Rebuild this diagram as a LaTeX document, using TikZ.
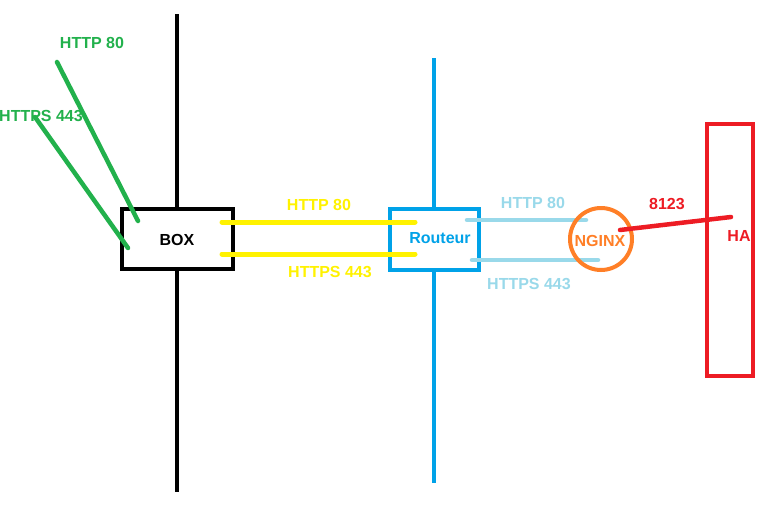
\documentclass[tikz,border=0pt]{standalone}
\usepackage{fontspec}
\setmainfont{Liberation Sans}
\definecolor{pgreen}{HTML}{22B14C}
\definecolor{pyellow}{HTML}{FFF200}
\definecolor{pblue}{HTML}{00A2E8}
\definecolor{plblue}{HTML}{99D9EA}
\definecolor{porange}{HTML}{FF7F27}
\definecolor{pred}{HTML}{ED1C24}
\begin{document}
\begin{tikzpicture}[x=1pt,y=-1pt,
  lbl/.style={font=\fontsize{16}{18}\selectfont\bfseries, inner sep=0pt},
  wire/.style={line width=4.5pt, line cap=round},
  frame/.style={line width=4pt, inner sep=0pt}]
\useasboundingbox[fill=white] (0,0) rectangle (772,507);
% black network
\coordinate (bt) at (177,14); \coordinate (bb) at (177,492);
\draw[wire, line cap=butt] (bt) -- (bb);
\node[frame, draw=black, fill=white, minimum width=111pt, minimum height=60pt] (box) at (177.5,239) {};
\node[lbl, text=black] (boxt) at (177,240) {BOX};
% green
\coordinate (g1a) at (57,62); \coordinate (g1b) at (138,221);
\coordinate (g2a) at (35,117); \coordinate (g2b) at (128,248);
\node[lbl, text=pgreen] (gl1) at (92,43) {HTTP 80};
\node[lbl, text=pgreen] (gl2) at (41,116) {HTTPS 443};
\draw[wire, pgreen] (g1a) -- (g1b);
\draw[wire, pgreen] (g2a) -- (g2b);
% blue network
\coordinate (ut) at (434,58); \coordinate (ub) at (434,483);
\draw[wire, pblue, line cap=butt] (ut) -- (ub);
\node[frame, draw=pblue, fill=white, minimum width=89pt, minimum height=61pt] (rt) at (434.5,239.5) {};
\node[lbl, text=pblue] (rtt) at (440,238) {Routeur};
% yellow
\coordinate (y1a) at (222,222); \coordinate (y1b) at (415,222);
\coordinate (y2a) at (222,254); \coordinate (y2b) at (415,254);
\draw[wire, pyellow, line width=5pt] (y1a) -- (y1b);
\draw[wire, pyellow, line width=5pt] (y2a) -- (y2b);
\node[lbl, text=pyellow] (yl1) at (319,205) {HTTP 80};
\node[lbl, text=pyellow] (yl2) at (330,272) {HTTPS 443};
% light blue
\coordinate (l1a) at (467,220); \coordinate (l1b) at (586,220);
\coordinate (l2a) at (472,260); \coordinate (l2b) at (598,260);
\draw[wire, plblue] (l1a) -- (l1b);
\draw[wire, plblue] (l2a) -- (l2b);
\node[lbl, text=plblue] (ll1) at (533,203) {HTTP 80};
\node[lbl, text=plblue] (ll2) at (529,284) {HTTPS 443};
% nginx
\node[draw=porange, line width=4pt, circle, minimum size=62pt, inner sep=0pt] (ng) at (601,239) {};
\node[lbl, text=porange] (ngt) at (600,241) {NGINX};
% HA
\node[frame, draw=pred, minimum width=46pt, minimum height=252pt] (ha) at (730,250) {};
\node[lbl, text=pred] (hat) at (739,236) {HA};
\coordinate (ra) at (620,230); \coordinate (rb) at (731,217);
\draw[wire, pred] (ra) -- (rb);
\node[lbl, text=pred] (rl) at (667,204) {8123};
\end{tikzpicture}
\end{document}
